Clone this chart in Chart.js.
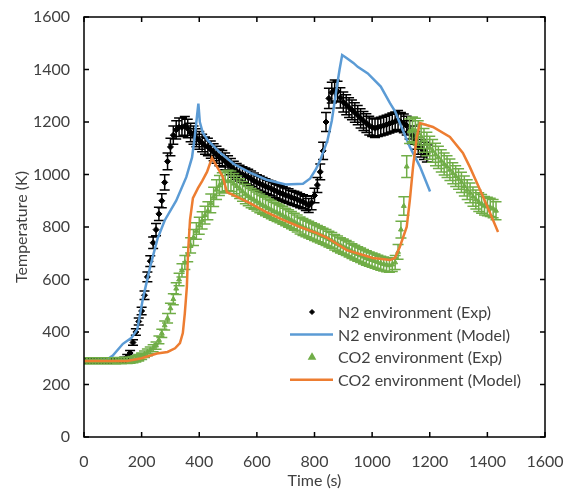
<!DOCTYPE html>
<html>
<head>
<meta charset="utf-8">
<script src="https://cdn.jsdelivr.net/npm/chart.js@4.4.1/dist/chart.umd.min.js"></script>
<style>
  html, body { margin: 0; padding: 0; background: #fff; }
  #wrap { position: relative; width: 570px; height: 492px; }
</style>
</head>
<body>
<div id="wrap"><canvas id="chart" width="570" height="492"></canvas></div>
<script>
// Temperature histories: N2 vs CO2 atmosphere, measured points and model curves

const n2ExpTime = [
  0, 10, 20, 30, 40, 50, 60, 70, 80, 90, 100, 110, 120, 130, 140,
  150, 160, 170, 180, 190, 200, 210, 220, 230, 240, 250, 260, 270, 280, 290,
  300, 310, 320, 330, 340, 350, 360, 370, 380, 390,
  400, 410, 420, 430, 440, 450, 460, 470, 480, 490,
  500, 510, 520, 530, 540, 550, 560, 570, 580, 590,
  600, 610, 620, 630, 640, 650, 660, 670, 680, 690,
  700, 710, 720, 730, 740, 750, 760, 770, 780, 790,
  800, 810, 820, 830, 840, 850, 860, 870, 880, 890,
  900, 910, 920, 930, 940, 950, 960, 970, 980, 990,
  1000, 1010, 1020, 1030, 1040, 1050, 1060, 1070, 1080, 1090,
  1100, 1110, 1120, 1130, 1140, 1150, 1160, 1170, 1180, 1190
];
const n2ExpTemp = [
  290, 290, 290, 290, 290, 291, 290, 290, 291, 290, 291, 292, 292, 293, 295,
  305, 320, 360, 400, 440, 480, 540, 610, 670, 740, 790, 850, 900, 970, 1050,
  1105, 1150, 1170, 1180, 1180, 1185, 1175, 1160, 1150, 1140,
  1130, 1120, 1110, 1105, 1095, 1085, 1075, 1065, 1060, 1050,
  1040, 1030, 1020, 1012, 1005, 1000, 995, 990, 984, 976,
  970, 965, 960, 955, 950, 946, 940, 935, 930, 926,
  921, 918, 912, 909, 905, 900, 896, 890, 882, 892,
  920, 960, 1010, 1090, 1200, 1290, 1312, 1320, 1316, 1292,
  1276, 1266, 1255, 1246, 1236, 1226, 1214, 1204, 1196, 1186,
  1180, 1176, 1180, 1183, 1186, 1190, 1194, 1198, 1202, 1208,
  1200, 1195, 1186, 1170, 1150, 1130, 1110, 1100, 1090, 1080
];

const co2ExpTime = [
  0, 10, 20, 30, 40, 50, 60, 70, 80, 90, 100, 110, 120, 130, 140, 150, 160, 170,
  180, 190, 200, 210, 220, 230, 240, 250, 260, 270, 280, 290,
  300, 310, 320, 330, 340, 350, 360, 370, 380, 390,
  400, 410, 420, 430, 440, 450, 460, 470, 480, 490,
  500, 510, 520, 530, 540, 550, 560, 570, 580, 590,
  600, 610, 620, 630, 640, 650, 660, 670, 680, 690,
  700, 710, 720, 730, 740, 750, 760, 770, 780, 790,
  800, 810, 820, 830, 840, 850, 860, 870, 880, 890,
  900, 910, 920, 930, 940, 950, 960, 970, 980, 990,
  1000, 1010, 1020, 1030, 1040, 1050, 1060, 1070, 1080, 1090,
  1100, 1110, 1120, 1130, 1140, 1150, 1160, 1170, 1180, 1190,
  1200, 1210, 1220, 1230, 1240, 1250, 1260, 1270, 1280, 1290,
  1300, 1310, 1320, 1330, 1340, 1350, 1360, 1370, 1380, 1390,
  1400, 1410, 1420, 1430
];
const co2ExpTemp = [
  290, 290, 290, 290, 290, 290, 290, 290, 290, 290, 290, 290, 291, 291, 292, 292, 293, 295,
  298, 302, 308, 315, 322, 330, 338, 348, 370, 395, 425, 452,
  490, 525, 565, 600, 635, 665, 695, 730, 760, 785,
  805, 825, 845, 862, 890, 915, 942, 958, 968, 974,
  977, 974, 965, 956, 946, 936, 926, 918, 910, 904,
  897, 890, 884, 878, 872, 866, 860, 855, 850, 844,
  838, 832, 826, 820, 813, 806, 800, 795, 790, 785,
  780, 775, 770, 765, 760, 754, 749, 742, 736, 730,
  725, 720, 714, 708, 702, 697, 692, 687, 682, 678,
  674, 670, 666, 662, 659, 656, 654, 657, 665, 705,
  790, 880, 1030, 1165, 1172, 1168, 1158, 1145, 1130, 1116,
  1102, 1090, 1076, 1065, 1052, 1040, 1030, 1018, 1005, 994,
  983, 970, 956, 942, 930, 916, 905, 895, 888, 881,
  878, 875, 870, 862
];

const n2ModelTime = [
  0, 80, 100, 135, 165, 185, 205, 230, 255, 280, 320, 355, 375, 385, 392, 397,
  402, 412, 430, 470, 520, 580, 633, 700, 760, 785, 805, 820, 845, 860, 877,
  887, 896, 910, 935, 950, 985, 1030, 1062, 1080, 1096, 1131, 1166, 1201
];
const n2ModelTemp = [
  290, 295, 310, 355, 378, 410, 530, 650, 755, 825, 900, 990, 1065, 1150, 1220, 1270,
  1200, 1160, 1130, 1085, 1040, 1005, 980, 962, 965, 985, 1020, 1055, 1130, 1205, 1330,
  1400, 1455, 1445, 1425, 1410, 1385, 1335, 1272, 1240, 1196, 1105, 1030, 935
];

const co2ModelTime = [
  0, 150, 200, 253, 290, 316, 333, 343, 350, 357, 361, 368, 378, 396, 410, 427,
  444, 482, 496, 517, 576, 633, 691, 750, 808, 843, 912, 1003, 1062, 1079,
  1096, 1120, 1131, 1142, 1155, 1166, 1211, 1270, 1315, 1339, 1364, 1385, 1409, 1437
];
const co2ModelTemp = [
  290, 290, 300, 318, 324, 338, 358, 396, 472, 572, 700, 827, 910, 949, 975, 1010,
  1063, 991, 933, 922, 891, 857, 827, 800, 777, 760, 712, 682, 674, 682,
  724, 800, 903, 1029, 1143, 1196, 1181, 1143, 1082, 1029, 968, 915, 854, 781
];

// relative error of the measured temperatures
const n2ExpError = 0.03;
const co2ExpError = 0.04;

const xTicks = [0, 200, 400, 600, 800, 1000, 1200, 1400, 1600];
const yTicks = [0, 200, 400, 600, 800, 1000, 1200, 1400, 1600];

const seriesNames = [
  'N2 environment (Exp)',
  'N2 environment (Model)',
  'CO2 environment (Exp)',
  'CO2 environment (Model)'
];

const BLACK = '#000000';
const BLUE = '#5B9BD5';
const GREEN = '#70AD47';
const ORANGE = '#ED7D31';
const TEXT = '#404040';
const FONT = 'Lato, "Open Sans", sans-serif';

const pts = (xs, ys) => xs.map((x, i) => ({ x: x, y: ys[i] }));

// vertical error bars with caps, drawn just before the owning dataset
const errorBars = {
  id: 'errorBars',
  beforeDatasetDraw(chart, args) {
    const ds = chart.data.datasets[args.index];
    if (!ds.relError) return;
    const { ctx, chartArea: a } = chart;
    const xs = chart.scales.x, ys = chart.scales.y;
    const cap = ds.capHalf || 4;
    ctx.save();
    ctx.beginPath();
    ctx.rect(a.left, a.top, a.right - a.left, a.bottom - a.top);
    ctx.clip();
    ctx.strokeStyle = ds.borderColor;
    ctx.lineWidth = 1.5;
    ctx.beginPath();
    ds.data.forEach(p => {
      const e = p.y * ds.relError;
      const px = xs.getPixelForValue(p.x);
      const top = ys.getPixelForValue(p.y + e);
      const bot = ys.getPixelForValue(p.y - e);
      ctx.moveTo(px, top); ctx.lineTo(px, bot);
      ctx.moveTo(px - cap, top); ctx.lineTo(px + cap, top);
      ctx.moveTo(px - cap, bot); ctx.lineTo(px + cap, bot);
    });
    ctx.stroke();
    ctx.restore();
  }
};

// box frame with inward tick marks on all four sides
const frame = {
  id: 'frame',
  afterDraw(chart) {
    const { ctx, chartArea: a } = chart;
    const xs = chart.scales.x, ys = chart.scales.y;
    const len = 5;
    ctx.save();
    ctx.strokeStyle = '#000';
    ctx.lineWidth = 1.5;
    ctx.strokeRect(a.left, a.top, a.right - a.left, a.bottom - a.top);
    ctx.beginPath();
    xTicks.forEach(v => {
      const px = xs.getPixelForValue(v);
      ctx.moveTo(px, a.bottom); ctx.lineTo(px, a.bottom - len);
      ctx.moveTo(px, a.top); ctx.lineTo(px, a.top + len);
    });
    yTicks.forEach(v => {
      const py = ys.getPixelForValue(v);
      ctx.moveTo(a.left, py); ctx.lineTo(a.left + len, py);
      ctx.moveTo(a.right, py); ctx.lineTo(a.right - len, py);
    });
    ctx.stroke();
    ctx.restore();
  }
};

// legend box sitting inside the plot, lower right
const insideLegend = {
  id: 'insideLegend',
  afterDraw(chart) {
    const { ctx, chartArea: a } = chart;
    const x0 = a.left + 206;
    const y0 = a.top + 295;
    const rowH = 22.6;
    ctx.save();
    ctx.font = '16px ' + FONT;
    ctx.textBaseline = 'middle';
    chart.data.datasets.forEach((ds, i) => {
      const y = y0 + i * rowH;
      if (ds.showLine) {
        ctx.strokeStyle = ds.borderColor;
        ctx.lineWidth = 2.5;
        ctx.beginPath();
        ctx.moveTo(x0, y); ctx.lineTo(x0 + 43, y);
        ctx.stroke();
      } else {
        ctx.fillStyle = ds.backgroundColor;
        ctx.strokeStyle = ds.borderColor;
        Chart.helpers.drawPoint(ctx, {
          pointStyle: ds.pointStyle, radius: 2.5, borderWidth: 1, rotation: 0
        }, x0 + 22, y);
      }
      ctx.fillStyle = TEXT;
      ctx.fillText(ds.label, x0 + 48, y + 1);
    });
    ctx.restore();
  }
};

new Chart(document.getElementById('chart'), {
  type: 'scatter',
  data: {
    datasets: [
      {
        label: seriesNames[0],
        data: pts(n2ExpTime, n2ExpTemp),
        showLine: false,
        pointStyle: 'rectRot',
        pointRadius: 3,
        backgroundColor: BLACK,
        borderColor: BLACK,
        relError: n2ExpError,
        capHalf: 5,
        order: 4
      },
      {
        label: seriesNames[1],
        data: pts(n2ModelTime, n2ModelTemp),
        showLine: true,
        pointRadius: 0,
        borderColor: BLUE,
        backgroundColor: BLUE,
        borderWidth: 2.5,
        tension: 0,
        order: 3
      },
      {
        label: seriesNames[2],
        data: pts(co2ExpTime, co2ExpTemp),
        showLine: false,
        pointStyle: 'triangle',
        pointRadius: 2.8,
        backgroundColor: GREEN,
        borderColor: GREEN,
        relError: co2ExpError,
        capHalf: 5.5,
        order: 2
      },
      {
        label: seriesNames[3],
        data: pts(co2ModelTime, co2ModelTemp),
        showLine: true,
        pointRadius: 0,
        borderColor: ORANGE,
        backgroundColor: ORANGE,
        borderWidth: 2.5,
        tension: 0,
        order: 1
      }
    ]
  },
  options: {
    responsive: false,
    animation: false,
    layout: { padding: { top: 17, right: 25, left: 12, bottom: 0 } },
    plugins: {
      legend: { display: false },
      tooltip: { enabled: false }
    },
    scales: {
      x: {
        type: 'linear',
        min: 0,
        max: 1600,
        afterBuildTicks(s) { s.ticks = xTicks.map(v => ({ value: v })); },
        afterFit(s) { s.height = 55; s.paddingLeft = 0; s.paddingRight = 0; },
        ticks: {
          color: TEXT, font: { family: FONT, size: 16 }, padding: 15, maxRotation: 0,
          callback: v => String(v)
        },
        grid: { display: false, drawTicks: false },
        border: { display: false },
        title: {
          display: true, text: 'Time (s)', color: TEXT,
          font: { family: FONT, size: 16 }, padding: { top: 0, bottom: 2 }
        }
      },
      y: {
        type: 'linear',
        min: 0,
        max: 1600,
        afterBuildTicks(s) { s.ticks = yTicks.map(v => ({ value: v })); },
        afterFit(s) { s.width = 72; s.paddingTop = 0; s.paddingBottom = 0; },
        ticks: {
          color: TEXT, font: { family: FONT, size: 16 }, padding: 14,
          callback: v => String(v)
        },
        grid: { display: false, drawTicks: false },
        border: { display: false },
        title: {
          display: true, text: 'Temperature (K)', color: TEXT,
          font: { family: FONT, size: 16 }, padding: { top: 0, bottom: 0 }
        }
      }
    }
  },
  plugins: [errorBars, frame, insideLegend]
});
</script>
</body>
</html>
